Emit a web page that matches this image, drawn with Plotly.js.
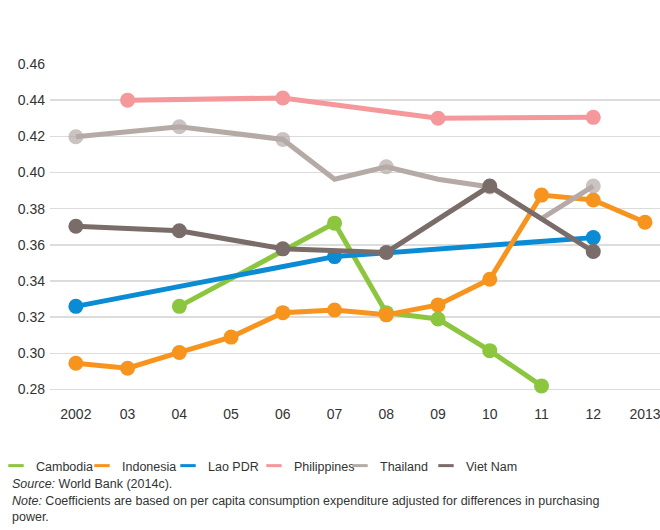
<!DOCTYPE html>
<html>
<head>
<meta charset="utf-8">
<script src="https://cdn.plot.ly/plotly-3.0.1.min.js"></script>
<style>
  html, body { margin: 0; padding: 0; background: #fff; }
  #chart { width: 660px; height: 530px; }
</style>
</head>
<body>
<div id="chart"></div>
<script>
// ---- Data (Gini coefficients) ----
const tickYears = [2002, 2003, 2004, 2005, 2006, 2007, 2008, 2009, 2010, 2011, 2012, 2013];
const tickLabels = ["2002", "03", "04", "05", "06", "07", "08", "09", "10", "11", "12", "2013"];

const cambodiaYears = [2004, 2007, 2008, 2009, 2010, 2011];
const cambodiaVals  = [0.326, 0.372, 0.3225, 0.319, 0.3015, 0.282];

const indonesiaYears = [2002, 2003, 2004, 2005, 2006, 2007, 2008, 2009, 2010, 2011, 2012, 2013];
const indonesiaVals  = [0.2945, 0.2918, 0.3005, 0.309, 0.3225, 0.324, 0.3213, 0.3268, 0.341, 0.3875, 0.3848, 0.3725];

const laoYears = [2002, 2007, 2012];
const laoVals  = [0.326, 0.3535, 0.364];

const philippinesYears = [2003, 2006, 2009, 2012];
const philippinesVals  = [0.44, 0.4412, 0.43, 0.4305];

const thailandYears = [2002, 2004, 2006, 2007, 2008, 2009, 2010, 2011, 2012];
const thailandVals  = [0.4198, 0.4253, 0.4183, 0.3963, 0.4032, 0.3963, 0.392, 0.3745, 0.3925];
const thailandSurveyYears = [2002, 2004, 2006, 2008, 2010, 2012];

const vietnamYears = [2002, 2004, 2006, 2008, 2010, 2012];
const vietnamVals  = [0.3703, 0.3678, 0.3578, 0.3558, 0.3925, 0.3563];

const seriesNames = ["Cambodia", "Indonesia", "Lao PDR", "Philippines", "Thailand", "Viet Nam"];

// ---- Styles ----
const colors = {
  "Cambodia": "#8cc63f",
  "Indonesia": "#f7941e",
  "Lao PDR": "#0a8bd3",
  "Philippines": "#f4989c",
  "Thailand": "#b5aaa6",
  "Viet Nam": "#7a6c69"
};
const LW = 5, MS = 15;

function seriesTrace(name, xs, ys, sizes) {
  return {
    type: "scatter", mode: "lines+markers", name: name,
    x: xs, y: ys, showlegend: false, hoverinfo: "x+y+name",
    line: { color: colors[name], width: LW },
    marker: { color: colors[name], size: sizes || MS, line: { width: 0 } },
    cliponaxis: false
  };
}
function legendTrace(name, i) {
  const t = {
    type: "scatter", mode: "markers", name: name,
    x: [null], y: [null], showlegend: true, hoverinfo: "skip",
    marker: { symbol: "line-ew", size: 11, color: colors[name], line: { color: colors[name], width: 3 } }
  };
  if (i === seriesNames.length - 1) t.legendwidth = 70;
  return t;
}

const thaiSizes = thailandYears.map(yr => thailandSurveyYears.includes(yr) ? MS : 0);

const data = [
  seriesTrace("Philippines", philippinesYears, philippinesVals),
  seriesTrace("Cambodia", cambodiaYears, cambodiaVals),
  seriesTrace("Lao PDR", laoYears, laoVals),
  seriesTrace("Indonesia", indonesiaYears, indonesiaVals),
  seriesTrace("Thailand", thailandYears, thailandVals, thaiSizes),
  seriesTrace("Viet Nam", vietnamYears, vietnamVals)
].concat(seriesNames.map(legendTrace));

const textFont = { family: "Liberation Sans, Arial, sans-serif", size: 12.5, color: "#333333" };
const tickFont = { family: "Liberation Sans, Arial, sans-serif", size: 14, color: "#333333" };

const layout = {
  width: 660, height: 530,
  paper_bgcolor: "#ffffff", plot_bgcolor: "#ffffff",
  margin: { l: 50, r: 0, t: 64, b: 126 },
  font: { family: "Liberation Sans, Arial, sans-serif", size: 14, color: "#333333" },
  showlegend: true,
  xaxis: {
    range: [2001.5, 2013.29],
    tickmode: "array", tickvals: tickYears, ticktext: tickLabels,
    showgrid: false, zeroline: false, showline: false, ticks: "",
    ticklabeloverflow: "allow",
    tickfont: tickFont,
    fixedrange: true
  },
  yaxis: {
    range: [0.272, 0.46],
    tickmode: "array",
    tickvals: [0.28, 0.30, 0.32, 0.34, 0.36, 0.38, 0.40, 0.42, 0.44, 0.46],
    tickformat: ".2f",
    showgrid: true, gridcolor: "#dcdcdc", gridwidth: 1.5,
    zeroline: false, showline: false, ticks: "",
    ticklabelstandoff: 4,
    tickfont: tickFont,
    fixedrange: true
  },
  legend: {
    orientation: "h",
    xref: "container", yref: "container",
    x: 0, xanchor: "left",
    y: 1 - 466 / 530, yanchor: "middle",
    indentation: -4,
    entrywidth: 45, entrywidthmode: "pixels",
    font: textFont,
    bgcolor: "rgba(0,0,0,0)", borderwidth: 0,
    traceorder: "normal"
  },
  annotations: [
    {
      xref: "paper", yref: "paper",
      x: (10 - 50) / 610, xanchor: "left",
      y: (404 - 484) / 340, yanchor: "middle",
      text: "<i>Source:</i> World Bank (2014c).",
      showarrow: false, align: "left", font: textFont
    },
    {
      xref: "paper", yref: "paper",
      x: (10 - 50) / 610, xanchor: "left",
      y: (404 - 492) / 340, yanchor: "top",
      text: "<i>Note:</i> Coefficients are based on per capita consumption expenditure adjusted for differences in purchasing<br>power.",
      showarrow: false, align: "left", font: textFont
    }
  ]
};

Plotly.newPlot("chart", data, layout, { displayModeBar: false, staticPlot: true });
</script>
</body>
</html>
